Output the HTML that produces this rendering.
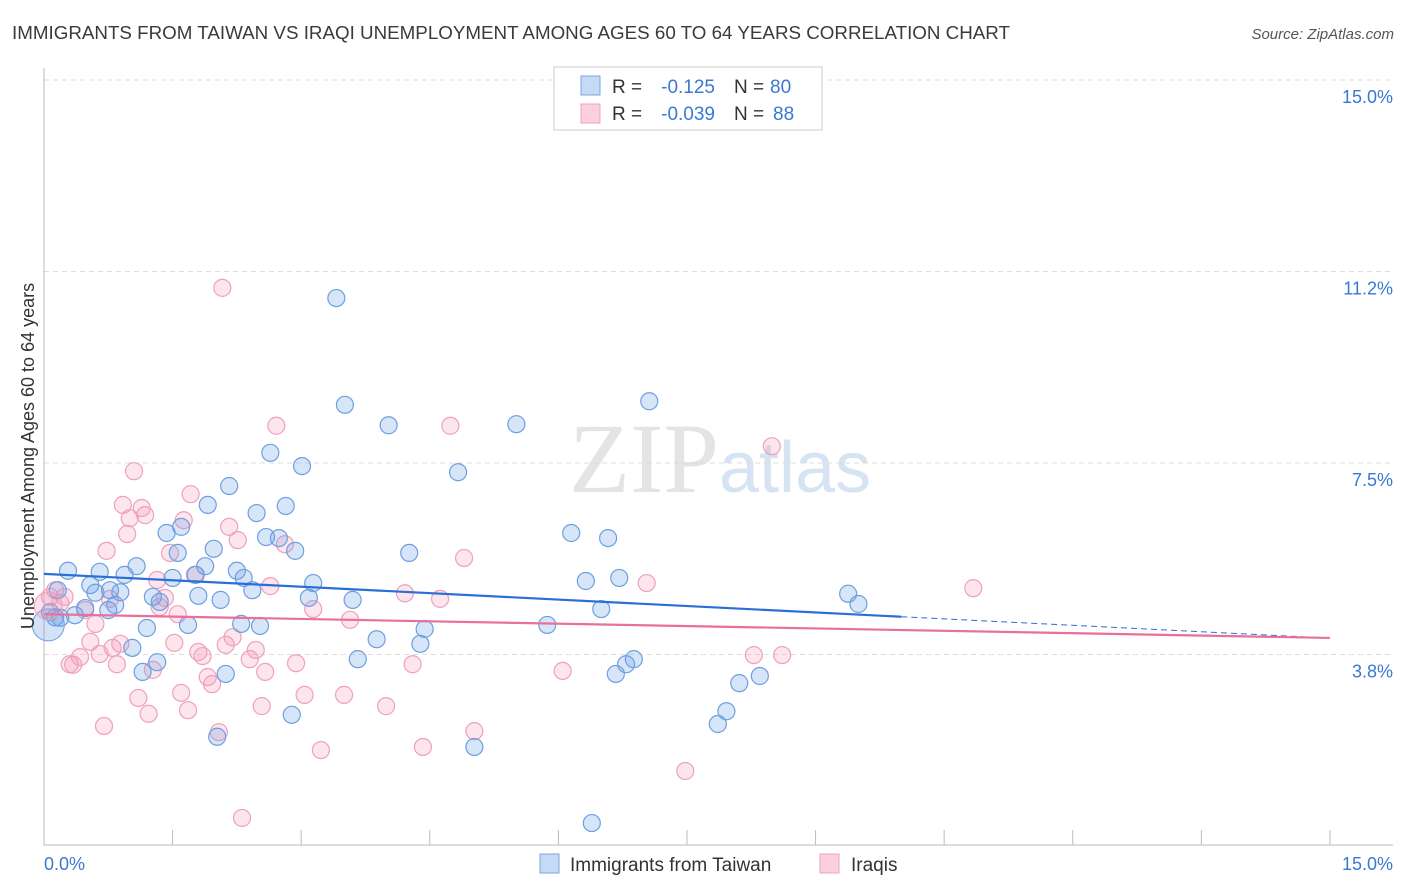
<!DOCTYPE html>
<html><head><meta charset="utf-8"><style>
body{margin:0;background:#fff;font-family:"Liberation Sans",sans-serif;}
svg{display:block}
</style></head><body>
<svg id="chart" width="1406" height="892" xmlns="http://www.w3.org/2000/svg">
<text x="12" y="39" font-size="18" fill="#3a3a3a" textLength="998" lengthAdjust="spacingAndGlyphs">IMMIGRANTS FROM TAIWAN VS IRAQI UNEMPLOYMENT AMONG AGES 60 TO 64 YEARS CORRELATION CHART</text>
<text x="1394" y="39" font-size="15" fill="#555" text-anchor="end" font-style="italic">Source: ZipAtlas.com</text>
<text x="720" y="492" font-size="100" fill="#e4e4e4" text-anchor="middle" font-family="Liberation Serif, serif">ZIP<tspan fill="#d6e3f3" font-family="Liberation Sans, sans-serif" font-size="72">atlas</tspan></text>
<g id="grid"></g>
<g id="axes"></g>
<g id="pts"></g>
<g id="trend"></g>
<text transform="translate(34,456) rotate(-90)" font-size="18" fill="#333" text-anchor="middle">Unemployment Among Ages 60 to 64 years</text>
<g>
<rect x="554" y="67" width="268" height="63" fill="#fff" stroke="#ccc"/>
<rect x="581" y="76" width="19" height="19" fill="#c5daf5" stroke="#7aa7e0"/>
<rect x="581" y="104" width="19" height="19" fill="#fbd0de" stroke="#f0a0bc"/>
<text x="612" y="93" font-size="19" fill="#333">R =</text>
<text x="715" y="93" font-size="19" fill="#3a78d4" text-anchor="end">-0.125</text>
<text x="734" y="93" font-size="19" fill="#333">N =</text>
<text x="770" y="93" font-size="19" fill="#3a78d4">80</text>
<text x="612" y="120" font-size="19" fill="#333">R =</text>
<text x="715" y="120" font-size="19" fill="#3a78d4" text-anchor="end">-0.039</text>
<text x="734" y="120" font-size="19" fill="#333">N =</text>
<text x="773" y="120" font-size="19" fill="#3a78d4">88</text>
</g>
<g>
<rect x="540" y="854" width="19" height="19" fill="#c5daf5" stroke="#7aa7e0"/>
<text x="570" y="871" font-size="19" fill="#333">Immigrants from Taiwan</text>
<rect x="820" y="854" width="19" height="19" fill="#fbd0de" stroke="#f0a0bc"/>
<text x="851" y="871" font-size="19" fill="#333">Iraqis</text>
</g>
</svg>
<script>
const yTicks=[15.0,11.25,7.5,3.75];
const yTickLabels=["15.0%","11.2%","7.5%","3.8%"];
const blueX=[0.28,0.16,0.13,0.07,0.19,0.54,0.60,0.48,0.65,0.77,0.83,0.94,0.89,1.08,1.20,1.03,1.15,1.32,1.27,1.35,1.43,1.50,1.56,1.60,1.68,1.77,1.80,1.88,1.91,1.98,2.16,2.25,2.30,2.33,2.43,2.48,2.52,2.64,2.59,2.74,2.82,2.93,3.01,3.09,3.14,2.89,3.41,3.51,3.60,3.66,3.88,4.02,4.26,4.39,4.44,4.83,5.02,5.51,5.87,6.15,6.32,6.39,6.50,6.58,6.67,6.71,6.79,6.88,7.06,7.86,7.96,8.11,8.35,9.38,9.50,2.02,2.12,2.06,0.75,0.36];
const blueY=[5.39,5.01,4.48,4.58,4.47,5.11,4.96,4.66,5.37,5.01,4.72,5.31,4.97,5.48,4.27,3.88,3.41,3.60,4.88,4.78,6.13,5.25,5.74,6.25,4.33,5.31,4.90,5.48,6.68,5.82,7.05,5.39,4.35,5.25,5.01,6.52,4.31,7.70,6.05,6.03,6.66,5.78,7.44,4.86,5.15,2.57,10.73,8.64,4.82,3.66,4.05,8.24,5.74,3.96,4.25,7.32,1.94,8.26,4.33,6.13,5.19,0.45,4.64,6.03,3.37,5.25,3.56,3.66,8.71,2.39,2.64,3.19,3.33,4.94,4.74,2.14,3.37,4.82,4.62,4.52];
const pinkX=[0.07,0.13,0.19,0.24,0.30,0.34,0.42,0.48,0.54,0.60,0.65,0.70,0.73,0.77,0.80,0.85,0.89,0.92,0.97,1.00,1.05,1.10,1.14,1.18,1.22,1.27,1.32,1.35,1.41,1.47,1.52,1.56,1.60,1.63,1.68,1.71,1.76,1.80,1.85,1.91,1.96,2.04,2.08,2.12,2.16,2.20,2.26,2.31,2.40,2.47,2.54,2.58,2.64,2.71,2.81,2.94,3.04,3.14,3.23,3.50,3.57,3.99,4.21,4.30,4.42,4.62,4.74,4.90,5.02,6.05,7.03,7.48,8.28,8.49,8.61,10.84];
const pinkY=[4.88,5.01,4.76,4.88,3.56,3.55,3.70,4.62,4.00,4.35,3.76,2.35,5.78,4.84,3.88,3.56,3.96,6.68,6.11,6.42,7.34,2.90,6.62,6.48,2.59,3.45,5.21,4.68,4.86,5.74,3.98,4.54,3.00,6.38,2.66,6.89,5.31,3.80,3.72,3.31,3.17,2.23,10.93,3.94,6.25,4.09,5.99,0.55,3.66,3.84,2.74,3.41,5.09,8.23,5.91,3.58,2.96,4.64,1.88,2.96,4.43,2.74,4.95,3.56,1.94,4.84,8.23,5.64,2.25,3.43,5.15,1.47,3.74,7.83,3.74,5.05];
const blueTrend=[5.33,-0.084]; // intercept, slope
const pinkTrend=[4.54,-0.031];
const blueSolidEnd=10.0;
const X=v=>44+v*85.73, Y=v=>80+(15-v)*51.07;
const NS="http://www.w3.org/2000/svg";
function mk(p,t,a){const e=document.createElementNS(NS,t);for(const k in a)e.setAttribute(k,a[k]);p.appendChild(e);return e;}
const grid=document.getElementById('grid'),axes=document.getElementById('axes'),pts=document.getElementById('pts'),tr=document.getElementById('trend');
yTicks.forEach((v,i)=>{
 const l=mk(grid,'line',{x1:44,x2:1393,y1:Y(v),y2:Y(v),stroke:'#ddd','stroke-dasharray':'5,4'});
 
 
 const t=mk(axes,'text',{x:1393,y:Y(v)+23,'font-size':18,fill:'#3a78d4','text-anchor':'end'});t.textContent=yTickLabels[i];
 
 
});
mk(axes,'line',{x1:44,x2:44,y1:68,y2:845,stroke:'#bbb'});
mk(axes,'line',{x1:44,x2:1393,y1:845,y2:845,stroke:'#bbb'});
for(let i=0;i<=10;i++){const x=X(i*1.5);mk(axes,'line',{x1:x,x2:x,y1:830,y2:845,stroke:'#bbb'});}
let t=mk(axes,'text',{x:44,y:870,'font-size':18,fill:'#3a78d4'});t.textContent='0.0%';


t=mk(axes,'text',{x:1393,y:870,'font-size':18,fill:'#3a78d4','text-anchor':'end'});t.textContent='15.0%';


function dots(xs,ys,fill,stroke,name){xs.forEach((x,i)=>{const c=mk(pts,'circle',{cx:X(x),cy:Y(ys[i]),r:8.5,fill:fill,stroke:stroke,'stroke-width':1.2});
 
 });}
dots(pinkX,pinkY,'rgba(245,150,180,0.25)','#f0a0bc','iraqis-point');
dots(blueX,blueY,'rgba(110,160,230,0.28)','#6d9fe0','taiwan-point');
let c=mk(pts,'circle',{cx:X(0.05),cy:Y(4.33),r:16,fill:'rgba(110,160,230,0.3)',stroke:'#6d9fe0'});


c=mk(pts,'circle',{cx:X(0.05),cy:Y(4.7),r:14,fill:'rgba(245,150,180,0.3)',stroke:'#f0a0bc'});


const ty=(tr0,x)=>tr0[0]+tr0[1]*x;
let l=mk(tr,'line',{x1:X(0),y1:Y(ty(blueTrend,0)),x2:X(blueSolidEnd),y2:Y(ty(blueTrend,blueSolidEnd)),stroke:'#2a6fd6','stroke-width':2.2});


l=mk(tr,'line',{x1:X(blueSolidEnd),y1:Y(ty(blueTrend,blueSolidEnd)),x2:X(15),y2:Y(ty(blueTrend,15)),stroke:'#2a6fd6','stroke-width':1,'stroke-dasharray':'6,4'});


l=mk(tr,'line',{x1:X(0),y1:Y(ty(pinkTrend,0)),x2:X(15),y2:Y(ty(pinkTrend,15)),stroke:'#e8709a','stroke-width':2.2});


</script>
</body></html>
